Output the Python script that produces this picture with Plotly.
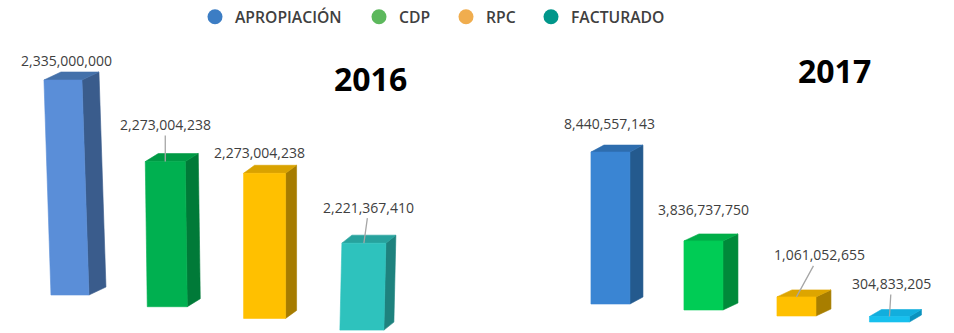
import plotly.graph_objects as go

# ---- data -------------------------------------------------------------
SERIES = ["APROPIACIÓN", "CDP", "RPC", "FACTURADO"]
YEARS = ["2016", "2017"]
VALUES_2016 = [2335000000, 2273004238, 2273004238, 2221367410]
VALUES_2017 = [8440557143, 3836737750, 1061052655, 304833205]

# ---- styles -------------------------------------------------------------
LEGEND_COLORS = ["#3C7DC4", "#5CB85C", "#F0AD4E", "#00968A"]
LEGEND_X_PX = [216, 380, 467, 552]   # centre of each legend dot

# (front, side, top) shades for each bar
FACES_2016 = [
    ("#5A8ED8", "#3A5C8C", "#4471AA"),
    ("#00B050", "#007A38", "#009A45"),
    ("#FFC000", "#A67C00", "#D9A200"),
    ("#2EC2BD", "#1E827E", "#27A29D"),
]
FACES_2017 = [
    ("#3A85D3", "#245A8E", "#2E6DAE"),
    ("#00CC55", "#008A3A", "#00AE48"),
    ("#FFC000", "#A87E00", "#DDA500"),
    ("#17C0EE", "#0A92BE", "#12AEDD"),
]

W, H = 954, 333
LABEL_FONT = dict(family="Open Sans", size=14, color="#404040")

PANELS = [
    dict(
        year="2016", values=VALUES_2016, faces=FACES_2016,
        xaxis="x", yaxis="y", domain=[0.0, 0.5],
        xrange=[-0.719, 4.183], yrange=[2.1105e9, 2.4060e9], floor=2.1442e9,
        width_px=[38, 40, 42, 44], depth_px=[17, 13, 11, 10], rise_px=8,
        drop_px=11.7, lean_px=[-7, -2, 0, 2],
        label_off=[(4, -20), (0, -37), (-5, -21), (5, -36)],
        leader=[False, True, False, True],
        title_pos=(370, 78),
    ),
    dict(
        year="2017", values=VALUES_2017, faces=FACES_2017,
        xaxis="x2", yaxis="y2", domain=[0.5, 1.0],
        xrange=[-1.435, 3.694], yrange=[-1.611e9, 16.889e9], floor=0.0,
        width_px=[39, 39, 39, 40], depth_px=[13, 15, 15, 12], rise_px=7,
        drop_px=6.0, lean_px=[0, 0, 0, 0],
        label_off=[(-1, -29), (0, -31), (23, -42), (2, -33)],
        leader=[False, False, True, True],
        title_pos=(834, 71),
    ),
]

fig = go.Figure()
annotations = []


def face(fig, xs, ys, color, xa, ya):
    fig.add_trace(go.Scatter(
        x=xs + [xs[0]], y=ys + [ys[0]], xaxis=xa, yaxis=ya,
        mode="lines", fill="toself", fillcolor=color,
        line=dict(width=0.6, color=color), hoverinfo="skip", showlegend=False,
    ))


for p in PANELS:
    panel_w = (p["domain"][1] - p["domain"][0]) * W
    ux = (p["xrange"][1] - p["xrange"][0]) / panel_w   # x units per pixel
    uy = (p["yrange"][1] - p["yrange"][0]) / H         # y units per pixel
    for i, (v, (c_front, c_side, c_top)) in enumerate(zip(p["values"], p["faces"])):
        hw = p["width_px"][i] / 2 * ux
        lean = p["lean_px"][i] * ux
        dx = p["depth_px"][i] * ux
        dy = p["rise_px"] * uy
        base = p["floor"] - i * p["drop_px"] * uy
        top = v - i * p["drop_px"] * uy
        xl, xr = i - hw, i + hw
        # side face
        face(fig, [xr, xr + dx, xr + dx + lean, xr + lean],
             [base, base + dy, top + dy, top], c_side, p["xaxis"], p["yaxis"])
        # top face
        face(fig, [xl + lean, xr + lean, xr + lean + dx, xl + lean + dx],
             [top, top, top + dy, top + dy], c_top, p["xaxis"], p["yaxis"])
        # front face
        face(fig, [xl, xr, xr + lean, xl + lean],
             [base, base, top, top], c_front, p["xaxis"], p["yaxis"])
        # value label
        ax, ay = p["label_off"][i]
        annotations.append(dict(
            x=i + lean, y=top, xref=p["xaxis"], yref=p["yaxis"],
            text=f"{v:,}", font=LABEL_FONT, showarrow=True,
            arrowhead=0, arrowwidth=1.3, standoff=0,
            arrowcolor="#A6A6A6" if p["leader"][i] else "rgba(0,0,0,0)",
            ax=ax, ay=ay,
        ))
    tx, ty = p["title_pos"]
    annotations.append(dict(
        x=tx / W, y=1 - ty / H, xref="paper", yref="paper",
        text=f"<b>{p['year']}</b>", showarrow=False,
        font=dict(family="Open Sans", size=32, color="#000000"),
        xanchor="center", yanchor="middle",
    ))

# legend entries, one legend box per series so each sits at its own spot
layout = {}
for k, (name, col, lx) in enumerate(zip(SERIES, LEGEND_COLORS, LEGEND_X_PX)):
    key = "legend" if k == 0 else f"legend{k + 1}"
    fig.add_trace(go.Scatter(
        x=[None], y=[None], mode="markers", name=name, legend=key,
        marker=dict(symbol="circle", size=15, color=col),
        hoverinfo="skip",
    ))
    layout[key] = dict(
        orientation="h", x=(lx - 21) / W, xanchor="left",
        y=1 - 17 / H, yanchor="middle",
        font=dict(family="Open Sans", size=15.7, color="#404040", weight=600),
        bgcolor="rgba(0,0,0,0)", borderwidth=0,
    )

axis_off = dict(visible=False, fixedrange=True)
layout.update(
    width=W, height=H,
    margin=dict(l=0, r=0, t=0, b=0),
    paper_bgcolor="white", plot_bgcolor="white",
    showlegend=True,
    annotations=annotations,
)
for p in PANELS:
    xk = "xaxis" if p["xaxis"] == "x" else "xaxis2"
    yk = "yaxis" if p["yaxis"] == "y" else "yaxis2"
    layout[xk] = dict(axis_off, domain=p["domain"], range=p["xrange"], anchor=p["yaxis"])
    layout[yk] = dict(axis_off, domain=[0, 1], range=p["yrange"], anchor=p["xaxis"])

fig.update_layout(**layout)
fig.write_html("out.html")
